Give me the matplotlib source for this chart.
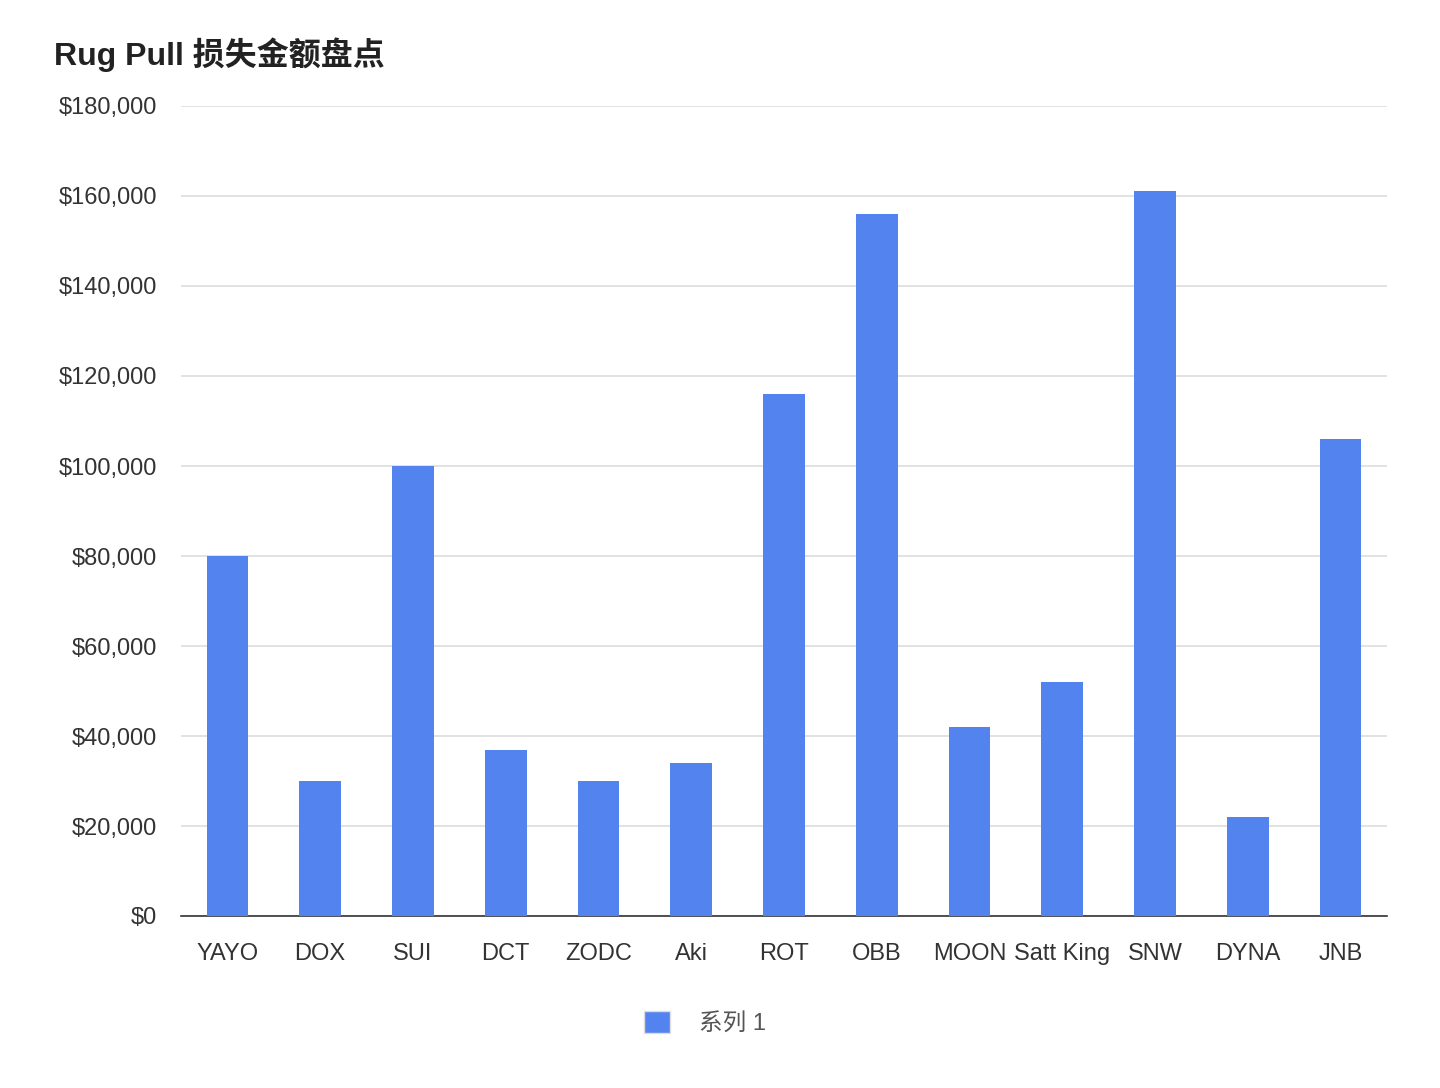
import matplotlib
matplotlib.use("Agg")
import matplotlib.pyplot as plt
from matplotlib.patches import Patch
from matplotlib.ticker import FuncFormatter

plt.rcParams['font.family'] = ['Liberation Sans', 'Noto Sans CJK SC', 'DejaVu Sans']

tokens = ["YAYO", "DOX", "SUI", "DCT", "ZODC", "Aki", "ROT", "OBB",
          "MOON", "Satt King", "SNW", "DYNA", "JNB"]
losses = [80000, 30000, 100000, 37000, 30000, 34000, 116000, 156000,
          42000, 52000, 161000, 22000, 106000]
yticks = list(range(0, 180001, 20000))

bar_color = "#5383EF"

fig = plt.figure(figsize=(14.4, 10.88), dpi=100)
ax = fig.add_axes([181/1440, 1 - 916/1088, (1387 - 181)/1440, (916 - 106)/1088])

x = range(len(tokens))
ax.bar(x, losses, width=0.45, color=bar_color, zorder=3)

ax.set_xlim(-0.5, len(tokens) - 0.5)
ax.set_ylim(0, 180000)
ax.set_yticks(yticks)
ax.yaxis.set_major_formatter(FuncFormatter(lambda v, p: "${:,.0f}".format(v)))
ax.set_xticks(list(x))
ax.set_xticklabels(tokens)

ax.grid(axis="y", color="#dddddd", linewidth=1.2, zorder=0)
for s in ["top", "right", "left"]:
    ax.spines[s].set_visible(False)
ax.spines["bottom"].set_color("#333333")
ax.spines["bottom"].set_linewidth(1.2)
ax.tick_params(axis="both", length=0, labelsize=17, colors="#333333")
ax.tick_params(axis="y", pad=17)
ax.tick_params(axis="x", pad=19.5)

fig.text(54/1440, 1 - 55/1088, "Rug Pull 损失金额盘点", fontsize=23,
         fontweight="bold", color="#222222", va="center", ha="left")

handle = Patch(facecolor=bar_color, edgecolor="#dddddd", linewidth=1)
fig.legend([handle], ["系列 1"], loc="center", bbox_to_anchor=(705/1440, 1 - 1023/1088),
           frameon=False, fontsize=17, handlelength=1.1, handleheight=1.1,
           handletextpad=1.2, labelcolor="#555555")

fig.savefig("out.png", dpi=100)
